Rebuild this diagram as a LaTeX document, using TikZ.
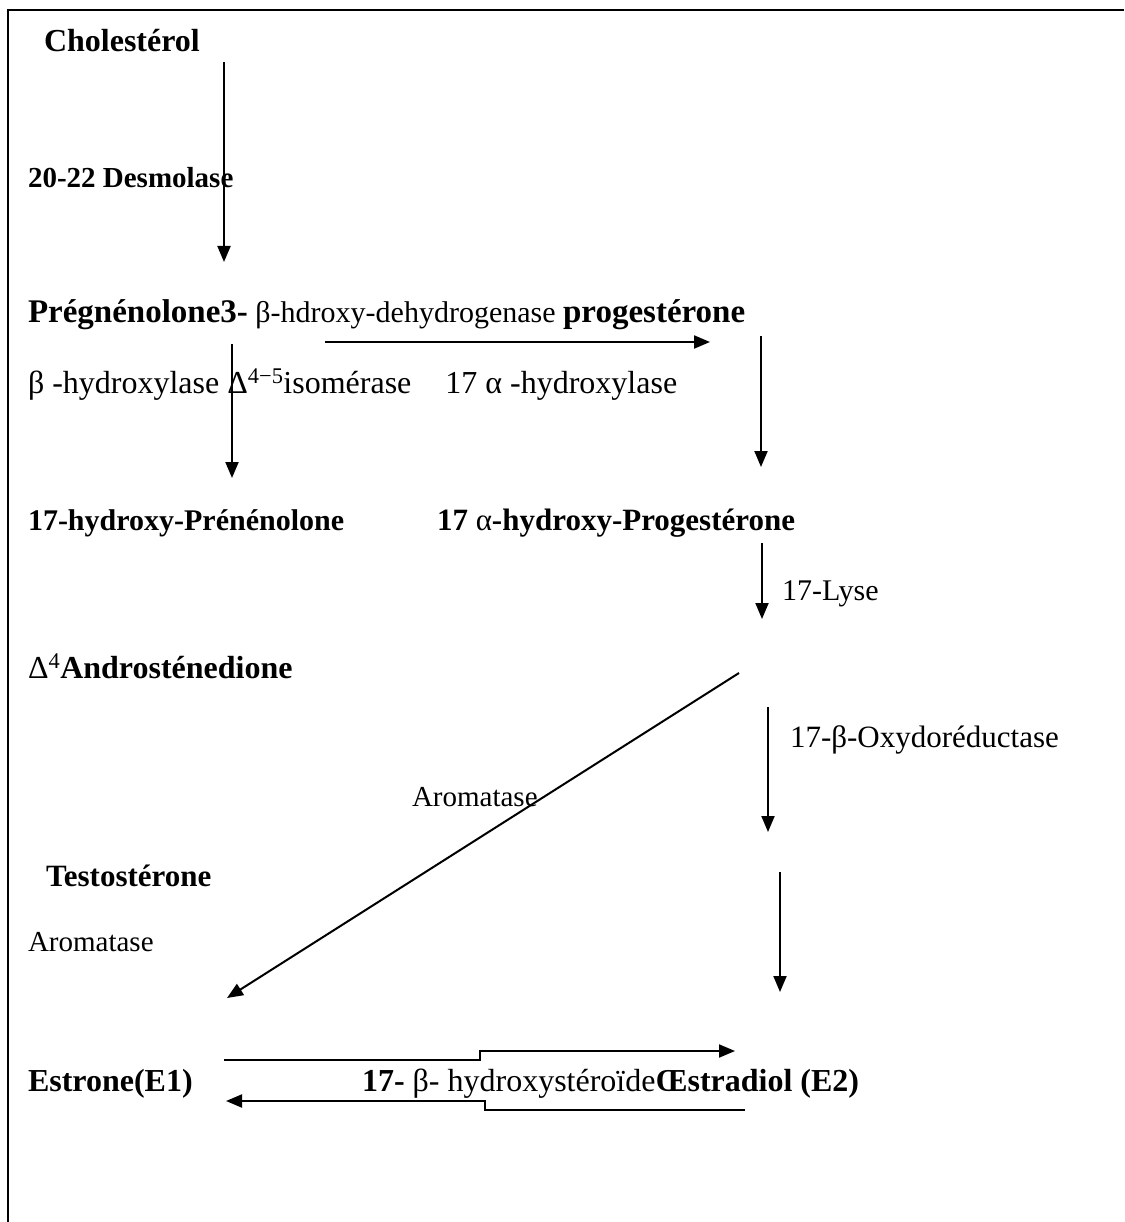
\documentclass[tikz,border=0pt]{standalone}
\usepackage{fontspec}
\setmainfont{Liberation Serif}
\usetikzlibrary{arrows.meta}
\newcommand\fs[1]{\fontsize{#1}{#1}\selectfont}
\tikzset{
  lbl/.style={anchor=base west, inner sep=0pt, outer sep=0pt},
  arr/.style={-{Triangle[length=16pt,width=13pt]}, line width=2pt},
  framel/.style={line width=2.4pt}
}
\begin{document}
\begin{tikzpicture}[x=1pt,y=-1pt]
\useasboundingbox (0,0) rectangle (1124,1222);
\draw[framel] (8,1222) -- (8,10) -- (1124,10);
% texts
\node[lbl] (chol) at (44,52) {\bfseries\fs{32}Cholestérol};
\node[lbl] (desm) at (28,188) {\bfseries\fs{29}20-22 Desmolase};
\node[lbl] (row3) at (28,322) {\fs{33}\bfseries Prégnénolone3-\mdseries\fs{30} β-hdroxy-dehydrogenase \bfseries\fs{33}progestérone};
\node[lbl] (row4) at (28,393) {\fs{32}β -hydroxylase Δ\textsuperscript{4−5}isomérase\hspace{34pt}17 α -hydroxylase};
\node[lbl] (preg17) at (28,530) {\bfseries\fs{30}17-hydroxy-Prénénolone};
\node[lbl] (prog17) at (437,530) {\bfseries\fs{31}17 {\mdseries α}-hydroxy-Progestérone};
\node[lbl] (lyse) at (782,600) {\fs{30}17-Lyse};
\node[lbl] (andro) at (28,678) {\fs{32}Δ\textsuperscript{4}\bfseries Androsténedione};
\node[lbl] (arom1) at (412,806) {\fs{29}Aromatase};
\node[lbl] (oxy) at (790,747) {\fs{31}17-β-Oxydoréductase};
\node[lbl] (testo) at (46,886) {\bfseries\fs{31}Testostérone};
\node[lbl] (arom2) at (28,951) {\fs{29}Aromatase};
\node[lbl] (estrone) at (28,1091) {\bfseries\fs{32}Estrone(E1)};
\node[lbl] (hsd) at (362,1091) {\fs{32}\bfseries 17- \mdseries β- hydroxystéroïde\bfseries Œstradiol (E2)};
% arrow end points
\coordinate (a1s) at (224,62);   \coordinate (a1e) at (224,262);
\coordinate (a2s) at (325,342);  \coordinate (a2e) at (710,342);
\coordinate (a3s) at (232,344);  \coordinate (a3e) at (232,478);
\coordinate (a4s) at (761,336);  \coordinate (a4e) at (761,467);
\coordinate (a5s) at (762,543);  \coordinate (a5e) at (762,619);
\coordinate (d1s) at (739,673);  \coordinate (d1e) at (227,998);
\coordinate (a6s) at (768,707);  \coordinate (a6e) at (768,832);
\coordinate (a7s) at (780,872);  \coordinate (a7e) at (780,992);
\coordinate (b1s) at (224,1060); \coordinate (b1e) at (735,1051);
\coordinate (b2s) at (745,1110); \coordinate (b2e) at (226,1101);
\draw[arr] (a1s) -- (a1e);
\draw[arr] (a2s) -- (a2e);
\draw[arr] (a3s) -- (a3e);
\draw[arr] (a4s) -- (a4e);
\draw[arr] (a5s) -- (a5e);
\draw[arr] (d1s) -- (d1e);
\draw[arr] (a6s) -- (a6e);
\draw[arr] (a7s) -- (a7e);
\draw[arr] (b1s) -- (480,1060) -- (480,1051) -- (b1e);
\draw[arr] (b2s) -- (485,1110) -- (485,1101) -- (b2e);
\end{tikzpicture}
\end{document}
